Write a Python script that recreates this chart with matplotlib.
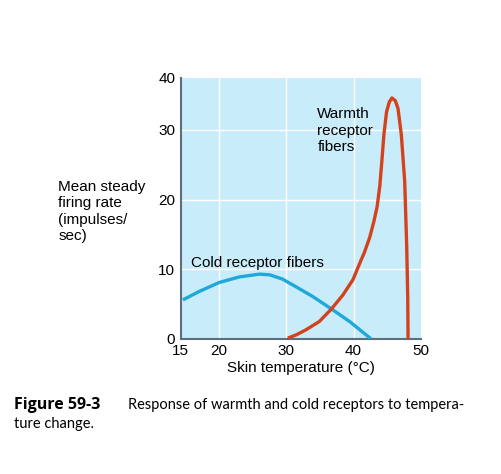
import numpy as np
import matplotlib
matplotlib.use("Agg")
import matplotlib.pyplot as plt

# data
cold_x = [14.6, 17.0, 20.0, 23.0, 26.0, 27.5, 29.4, 31.4, 33.9, 36.7, 39.4, 42.6]
cold_y = [5.6, 6.8, 8.1, 8.9, 9.3, 9.2, 8.6, 7.5, 6.1, 4.3, 2.5, 0.0]

warm_x = [30.2, 31.5, 32.9, 34.9, 36.7, 38.4, 39.9, 41.1, 41.6, 42.4, 43.0, 43.5,
          43.9, 44.2, 44.5, 44.9, 45.3, 45.7, 46.2, 46.6, 47.1, 47.6, 47.9, 48.05, 48.1]
warm_y = [0.1, 0.6, 1.3, 2.5, 4.3, 6.3, 8.5, 11.3, 12.4, 14.6, 16.8, 19.0,
          22.0, 25.5, 29.3, 32.6, 34.0, 34.6, 34.2, 33.1, 29.3, 22.6, 13.2, 6.0, 0.0]

x_ticks = [14.3, 20, 30, 40, 50]
x_labels = ["15", "20", "30", "40", "50"]
y_ticks = [0, 10, 20, 30, 37.5]
y_labels = ["0", "10", "20", "30", "40"]

plt.rcParams['font.family'] = ['Liberation Sans', 'DejaVu Sans']

fig = plt.figure(figsize=(5.01, 4.74), dpi=100)
ax = fig.add_axes([0.361, 0.285, 0.479, 0.551])
ax.set_facecolor("#c9ecfa")

ax.set_xlim(14.3, 49.9)
ax.set_ylim(0, 37.5)
ax.set_xticks(x_ticks)
ax.set_xticklabels(x_labels)
ax.set_yticks(y_ticks)
ax.set_yticklabels(y_labels)
ax.tick_params(length=0, labelsize=11, pad=4, colors="black")

# white grid lines
for gx in [20, 30, 40]:
    ax.axvline(gx, color="white", lw=1.0, zorder=1)
for gy in [10, 20, 30]:
    ax.axhline(gy, color="white", lw=1.0, zorder=1)

for s in ["top", "right"]:
    ax.spines[s].set_visible(False)
for s in ["left", "bottom"]:
    ax.spines[s].set_color("#5b6f7c")
    ax.spines[s].set_linewidth(1.5)

ax.plot(cold_x, cold_y, color="#1fa8d8", lw=2.4, solid_capstyle="butt",
        solid_joinstyle="round", zorder=3)
ax.plot(warm_x, warm_y, color="#d3421c", lw=2.4, solid_capstyle="butt",
        solid_joinstyle="round", zorder=3)

ax.text(15.85, 10.9, "Cold receptor fibers", fontsize=11, va="center", ha="left")
ax.text(34.6, 33.3, "Warmth\nreceptor\nfibers", fontsize=11, va="top", ha="left",
        linespacing=1.25)

ax.set_xlabel("Skin temperature (°C)", fontsize=11, labelpad=2)

fig.text(0.116, 0.62, "Mean steady\nfiring rate\n(impulses/\nsec)", fontsize=11,
         ha="left", va="top", linespacing=1.2)

fig.text(0.028, 0.146, "Figure 59-3", fontsize=11.5, fontweight="bold",
         family=["Open Sans", "DejaVu Sans"], ha="left", va="center")
fig.text(0.255, 0.146, "Response of warmth and cold receptors to tempera-",
         fontsize=10.5, family=["Lato", "DejaVu Sans"], ha="left", va="center")
fig.text(0.028, 0.105, "ture change.", fontsize=10.5,
         family=["Lato", "DejaVu Sans"], ha="left", va="center")

fig.savefig("out.png", dpi=100)
